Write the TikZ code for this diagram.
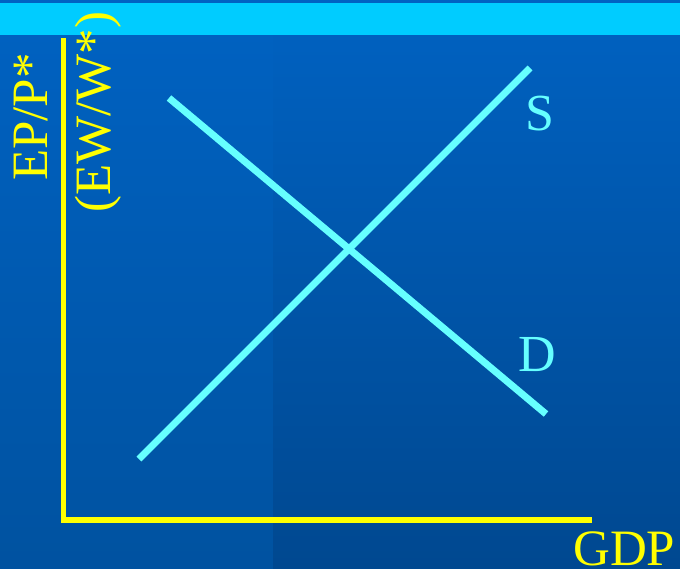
\documentclass[tikz,border=0pt]{standalone}
\usepackage{fontspec}
\setmainfont{Liberation Serif}
\begin{document}
\begin{tikzpicture}[x=1pt,y=-1pt,
  axis/.style={draw=axisyellow,line width=5.5pt},
  curve/.style={draw=curvecyan,line width=7pt},
  ylab/.style={text=axisyellow,font=\fontsize{51}{51}\selectfont,inner sep=0pt,rotate=90,anchor=base west},
  curvelab/.style={text=curvecyan,font=\fontsize{52}{52}\selectfont,inner sep=0pt,anchor=base west}]
\definecolor{axisyellow}{HTML}{FFFF00}
\definecolor{curvecyan}{HTML}{66FFFF}
\definecolor{bgtop}{HTML}{0062C2}
\definecolor{bgbotl}{HTML}{0052A0}
\definecolor{bgbotr}{HTML}{004890}
\definecolor{band}{HTML}{00CCFF}
\useasboundingbox (0,0) rectangle (680,568);
% background
\shade[top color=bgtop,bottom color=bgbotl] (0,0) rectangle (273,568);
\shade[top color=bgtop,bottom color=bgbotr] (273,0) rectangle (680,568);
\fill[band] (0,3) rectangle (680,35);
% axes
\coordinate (top) at (63.5,38);
\coordinate (origin) at (63.5,520);
\coordinate (xend) at (592,520);
\draw[axis] (top) -- (origin) -- (xend);
% curves
\coordinate (s1) at (139,459);
\coordinate (s2) at (530,68);
\coordinate (d1) at (169,98);
\coordinate (d2) at (546,414);
\draw[curve] (s1) -- (s2);
\draw[curve] (d1) -- (d2);
% labels
\node[ylab] (ep) at (47,181) {EP/P*};
\node[ylab] (ew) at (110,213) {(EW/W*)};
\node[text=axisyellow,font=\fontsize{51}{51}\selectfont,inner sep=0pt,anchor=base west] (gdp) at (573,565) {GDP};
\node[curvelab] (s) at (525,130) {S};
\node[curvelab] (d) at (518,371) {D};
\end{tikzpicture}
\end{document}
